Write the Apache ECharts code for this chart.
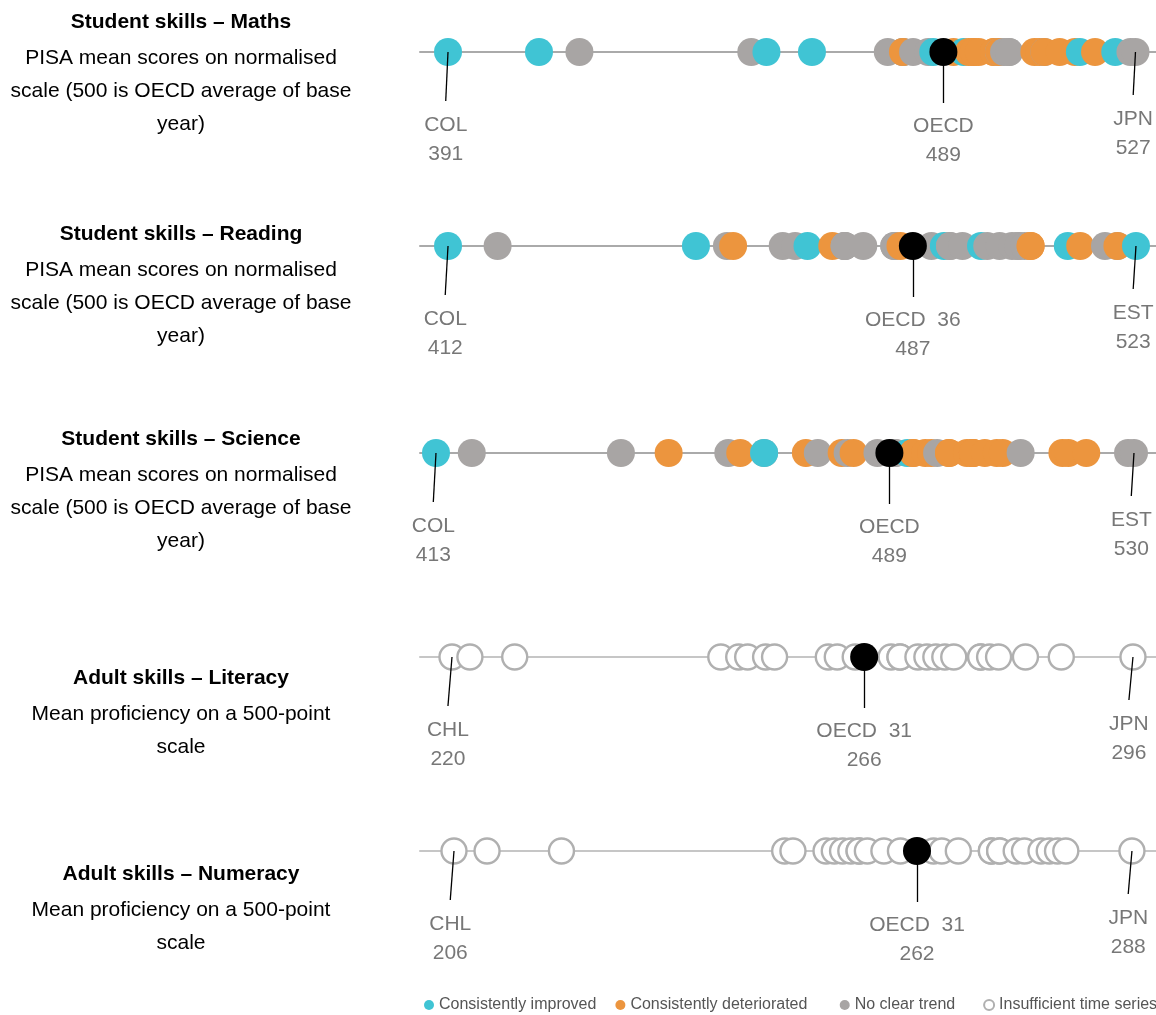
<!DOCTYPE html>
<html>
<head>
<meta charset="utf-8">
<script src="https://cdn.jsdelivr.net/npm/echarts@6/dist/echarts.min.js"></script>
<style>
html,body{margin:0;padding:0;background:#fff;}
#chart{width:1156px;height:1015px;}
</style>
</head>
<body>
<div id="chart"></div>
<script>
// ---------- DATA ----------
const rowTitles = [
  'Student skills – Maths',
  'Student skills – Reading',
  'Student skills – Science',
  'Adult skills – Literacy',
  'Adult skills – Numeracy'
];
const rowSubtitles = [
  'PISA mean scores on normalised\nscale (500 is OECD average of base\nyear)',
  'PISA mean scores on normalised\nscale (500 is OECD average of base\nyear)',
  'PISA mean scores on normalised\nscale (500 is OECD average of base\nyear)',
  'Mean proficiency on a 500-point\nscale',
  'Mean proficiency on a 500-point\nscale'
];
// trend codes: i = consistently improved, d = consistently deteriorated,
// n = no clear trend, x = insufficient time series
const mathsValues = [391,409,417,451,454,463,478,481,481,481,483,486,487,491,493,494,495,495,496,499,499,500,500,501,502,502,507,508,509,509,512,515,516,519,523,526,527];
const mathsTrend  = ['i','i','n','n','i','i','n','n','n','d','n','n','i','d','i','d','d','d','d','d','d','n','d','n','n','n','d','d','n','d','d','d','i','d','i','n','n'];
const readingValues = [412,420,452,457,458,466,468,470,474,476,476,476,479,484,484,485,490,492,493,493,495,498,499,501,503,504,504,505,506,506,512,514,518,520,520,523];
const readingTrend  = ['i','n','i','n','d','n','n','i','d','n','n','n','n','n','n','d','n','i','n','n','n','i','n','n','n','n','n','n','d','d','i','d','n','n','d','i'];
const scienceValues = [413,419,444,452,462,464,468,468,475,477,481,482,483,487,490,490,492,493,493,495,496,497,499,499,502,503,503,503,505,507,508,511,518,519,522,529,530];
const scienceTrend  = ['i','n','n','d','n','d','n','i','d','n','d','n','d','n','n','n','i','d','d','d','d','n','d','d','d','d','d','d','d','d','d','n','d','d','d','n','n'];
const literacyValues = [220,222,227,250,252,253,255,256,262,263,265,269,270,270,272,273,274,275,276,279,279,280,281,284,288,296];
const numeracyValues = [206,210,219,246,247,251,252,253,254,255,255,256,258,260,264,265,267,271,271,272,272,274,275,277,278,279,280,288];
const oecdValues = [489,487,489,266,262];
const labelNames = [
  ['COL','OECD','JPN'],
  ['COL','OECD  36','EST'],
  ['COL','OECD','EST'],
  ['CHL','OECD  31','JPN'],
  ['CHL','OECD  31','JPN']
];
const labelValues = [
  [391,489,527],
  [412,487,523],
  [413,489,530],
  [220,266,296],
  [206,262,288]
];
const legendNames = ['Consistently improved','Consistently deteriorated','No clear trend','Insufficient time series'];

// ---------- STYLE / LAYOUT ----------
const rowValues = [mathsValues, readingValues, scienceValues, literacyValues, numeracyValues];
const rowTrends = [mathsTrend, readingTrend, scienceTrend,
  literacyValues.map(() => 'x'), numeracyValues.map(() => 'x')];
const rowDotY = [52, 246, 453, 657, 851];
const rowTitleY = [6, 218, 423, 662, 858];
const rowAxisRange = [[385.46,531.06],[407.48,526.23],[410.32,533.69],[216.43,298.57],[201.89,290.91]];
const rowLineColor = ['#aaaaaa','#aaaaaa','#aaaaaa','#c6c6c6','#c6c6c6'];
const COLORS = {i:'#40c4d4', d:'#ec953e', n:'#a8a5a4'};
const RING = '#b0b0b0';
const SANS = "'Liberation Sans',Arial,sans-serif";
const legendTrailingGap = ['', '\u00a0\u00a0\u00a0', '\u00a0\u00a0', ''];

function dotItem(v, t) {
  if (t === 'x') {
    return {value:[v,0], symbolSize:25,
      itemStyle:{color:'#ffffff', borderColor:RING, borderWidth:2.4, opacity:1}};
  }
  return {value:[v,0], symbolSize:28, itemStyle:{color:COLORS[t], borderWidth:0, opacity:1}};
}

const grids = [], xAxes = [], yAxes = [], series = [], titles = [];
rowValues.forEach((vals, r) => {
  grids.push({left:420, right:0, top:rowDotY[r]-30, height:150});
  xAxes.push({type:'value', gridIndex:r, min:rowAxisRange[r][0], max:rowAxisRange[r][1],
    axisLine:{show:true, onZero:true, lineStyle:{color:rowLineColor[r], width:2}},
    axisTick:{show:false}, axisLabel:{show:false}, splitLine:{show:false}});
  yAxes.push({type:'value', gridIndex:r, min:-1.2, max:0.3, show:false,
    axisLine:{show:false}, splitLine:{show:false}});
  titles.push({
    text: rowTitles[r], subtext: rowSubtitles[r],
    left: 181, top: rowTitleY[r], textAlign:'center', padding:0, itemGap:3,
    textStyle:{fontFamily:SANS, fontSize:21, fontWeight:'bold', color:'#000', lineHeight:33},
    subtextStyle:{fontFamily:SANS, fontSize:21, color:'#000', lineHeight:33}
  });
  series.push({
    type:'scatter', xAxisIndex:r, yAxisIndex:r, z:2, silent:true,
    itemStyle:{opacity:1},
    data: vals.map((v,k) => dotItem(v, rowTrends[r][k]))
  });
  // connector lines and labels
  const names = labelNames[r], lv = labelValues[r];
  const offs = [-0.45, 0, -0.45];
  const lineEnd = [-0.49, -0.51, -0.43];
  const labY = [-0.875, -0.89, -0.815];
  series.push({
    type:'lines', coordinateSystem:'cartesian2d', xAxisIndex:r, yAxisIndex:r, z:3, silent:true,
    lineStyle:{color:'#000', width:1.3, opacity:1},
    data: lv.map((v,k) => ({coords:[[v,0],[v+offs[k], lineEnd[k]]]}))
  });
  series.push({
    type:'scatter', xAxisIndex:r, yAxisIndex:r, z:4, silent:true,
    symbolSize:28, itemStyle:{color:'#000', opacity:1},
    data:[[oecdValues[r],0]]
  });
  series.push({
    type:'scatter', xAxisIndex:r, yAxisIndex:r, z:5, silent:true, symbolSize:0,
    label:{show:true, position:'inside', color:'#555555', fontFamily:SANS, fontSize:21, lineHeight:29,
      align:'center', verticalAlign:'middle',
      formatter: p => p.name + '\n' + p.data.shown},
    data: lv.map((v,k) => ({name:names[k], value:[v+offs[k], labY[k]], shown:v}))
  });
});
// legend-only series
const legendStyles = [
  {color:COLORS.i, opacity:1}, {color:COLORS.d, opacity:1}, {color:COLORS.n, opacity:1},
  {color:'#ffffff', borderColor:RING, borderWidth:2, opacity:1}
];
legendNames.forEach((n,k) => {
  series.push({type:'scatter', name:n, xAxisIndex:0, yAxisIndex:0, data:[], itemStyle:legendStyles[k]});
});

const chart = echarts.init(document.getElementById('chart'), null, {renderer:'canvas'});
chart.setOption({
  animation:false,
  backgroundColor:'#ffffff',
  title: titles,
  grid: grids, xAxis: xAxes, yAxis: yAxes,
  legend:{
    data: legendNames,
    formatter: name => name + legendTrailingGap[legendNames.indexOf(name)],
    left:424, top:997, width:1200, padding:0,
    icon:'circle', itemWidth:10, itemHeight:10, itemGap:19,
    textStyle:{fontFamily:SANS, fontSize:16, color:'#555555'}
  },
  series: series
});
</script>
</body>
</html>
